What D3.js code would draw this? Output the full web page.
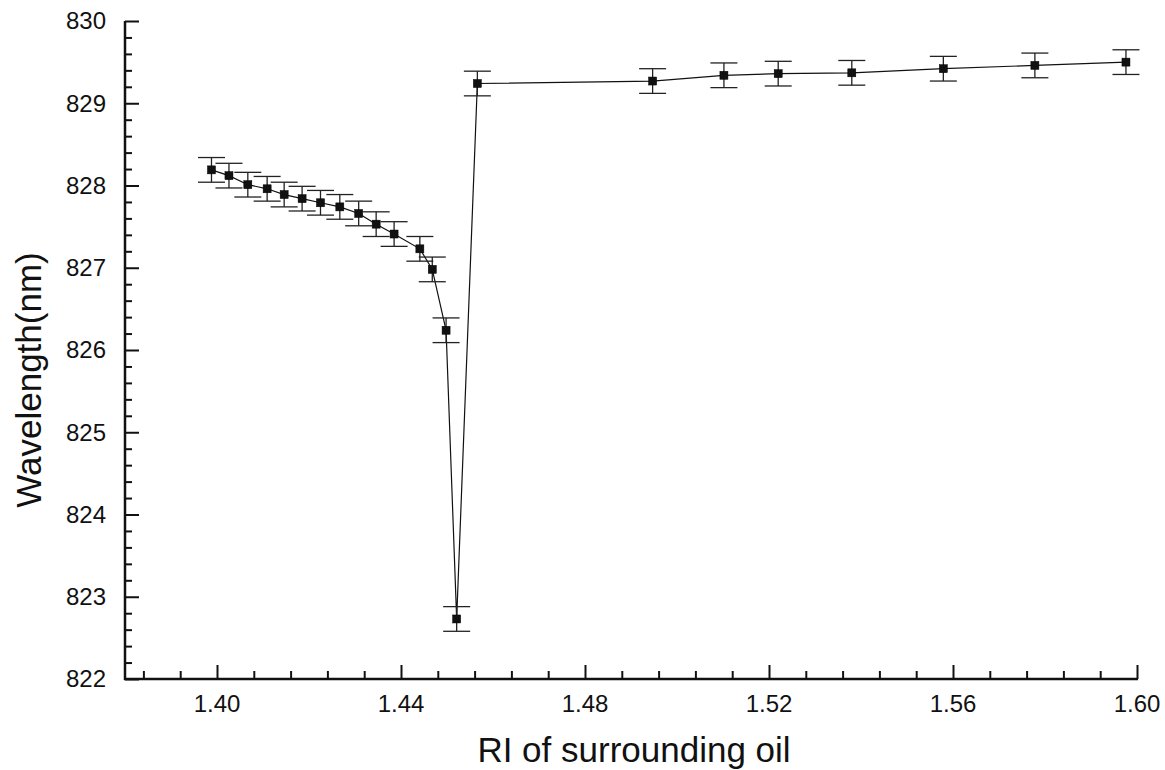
<!DOCTYPE html>
<html>
<head>
<meta charset="utf-8">
<script src="https://cdn.jsdelivr.net/npm/d3@7"></script>
<style>
  html, body { margin: 0; padding: 0; background: #fff; }
  svg { display: block; }
  text { font-family: "Liberation Sans", Arial, sans-serif; fill: #111; }
</style>
</head>
<body>
<svg id="chart" width="1165" height="770"></svg>
<script>
// Refractive index of the surrounding oil
const riValues = [
  1.3988, 1.4026, 1.4067, 1.4109, 1.4146, 1.4185, 1.4225, 1.4267,
  1.4308, 1.4346, 1.4385, 1.4441, 1.4468, 1.4498, 1.4521, 1.4566,
  1.4947, 1.5102, 1.5220, 1.5380, 1.5579, 1.5778, 1.5976
];
// Resonance wavelength (nm)
const wavelengths = [
  828.19, 828.12, 828.01, 827.96, 827.89, 827.84, 827.79, 827.74,
  827.66, 827.53, 827.41, 827.23, 826.98, 826.24, 822.73, 829.24,
  829.27, 829.34, 829.36, 829.37, 829.42, 829.46, 829.50
];
// Measurement uncertainty (nm)
const errors = [
  0.15, 0.15, 0.15, 0.15, 0.15, 0.15, 0.15, 0.15,
  0.15, 0.15, 0.15, 0.15, 0.15, 0.15, 0.15, 0.15,
  0.15, 0.15, 0.15, 0.15, 0.15, 0.15, 0.15
];
const xTickValues = [1.40, 1.44, 1.48, 1.52, 1.56, 1.60];
const yTickValues = [822, 823, 824, 825, 826, 827, 828, 829, 830];
const xTitle = "RI of surrounding oil";
const yTitle = "Wavelength(nm)";

const data = riValues.map((x, i) => ({ x, y: wavelengths[i], e: errors[i] }));

const svg = d3.select("#chart");
const x = d3.scaleLinear().domain([1.38, 1.60]).range([125, 1137]);
const y = d3.scaleLinear().domain([822, 830]).range([679, 21]);

// minor ticks
const xMinor = d3.range(0, 28).map(i => +(1.384 + i * 0.008).toFixed(3))
  .filter(v => v <= 1.6001 && !xTickValues.some(t => Math.abs(t - v) < 1e-6));
const yMinor = d3.range(0, 41).map(i => +(822 + i * 0.2).toFixed(1))
  .filter(v => !yTickValues.some(t => Math.abs(t - v) < 1e-6));

// x axis (ticks point into the plot)
const gx = svg.append("g").attr("transform", `translate(0,${y(822)})`);
gx.call(d3.axisTop(x).tickValues(xMinor).tickSize(8).tickFormat(""))
  .call(g => g.select(".domain").remove());
gx.append("g").call(d3.axisTop(x).tickValues(xTickValues).tickSize(14).tickFormat(""))
  .call(g => g.select(".domain").remove());
gx.selectAll("line").attr("stroke", "#111").attr("stroke-width", 2);
gx.append("g").selectAll("text").data(xTickValues).join("text")
  .attr("x", d => x(d)).attr("y", 33)
  .attr("text-anchor", "middle").attr("font-size", 24)
  .text(d3.format(".2f"));
gx.append("line").attr("x1", x(1.38) - 1).attr("x2", x(1.60) + 1)
  .attr("stroke", "#111").attr("stroke-width", 2.5);

// y axis (ticks point into the plot)
const gy = svg.append("g").attr("transform", `translate(${x(1.38)},0)`);
gy.call(d3.axisRight(y).tickValues(yMinor).tickSize(7).tickFormat(""))
  .call(g => g.select(".domain").remove());
gy.append("g").call(d3.axisRight(y).tickValues(yTickValues).tickSize(14).tickFormat(""))
  .call(g => g.select(".domain").remove());
gy.selectAll("line").attr("stroke", "#111").attr("stroke-width", 2);
gy.append("g").selectAll("text").data(yTickValues).join("text")
  .attr("x", -19).attr("y", d => y(d)).attr("dy", "0.35em")
  .attr("text-anchor", "end").attr("font-size", 24)
  .text(d => d);
gy.append("line").attr("y1", y(830)).attr("y2", y(822) + 1)
  .attr("stroke", "#111").attr("stroke-width", 2.5);

// axis titles
svg.append("text").attr("x", 634).attr("y", 762)
  .attr("text-anchor", "middle").attr("font-size", 35).text(xTitle);
svg.append("text").attr("transform", `translate(41,${380}) rotate(-90)`)
  .attr("text-anchor", "middle").attr("font-size", 35).text(yTitle);

// connecting line
svg.append("path").datum(data)
  .attr("fill", "none").attr("stroke", "#111").attr("stroke-width", 1.2)
  .attr("d", d3.line().x(d => x(d.x)).y(d => y(d.y)));

// error bars
const cap = 13.5;
const eb = svg.append("g").attr("stroke", "#222").attr("stroke-width", 1.3);
eb.selectAll(".stem").data(data).join("line")
  .attr("x1", d => x(d.x)).attr("x2", d => x(d.x))
  .attr("y1", d => y(d.y + d.e)).attr("y2", d => y(d.y - d.e));
eb.selectAll(".top").data(data).join("line")
  .attr("x1", d => x(d.x) - cap).attr("x2", d => x(d.x) + cap)
  .attr("y1", d => y(d.y + d.e)).attr("y2", d => y(d.y + d.e));
eb.selectAll(".bot").data(data).join("line")
  .attr("x1", d => x(d.x) - cap).attr("x2", d => x(d.x) + cap)
  .attr("y1", d => y(d.y - d.e)).attr("y2", d => y(d.y - d.e));

// square markers
const ms = 8;
svg.append("g").selectAll("rect").data(data).join("rect")
  .attr("x", d => x(d.x) - ms / 2).attr("y", d => y(d.y) - ms / 2)
  .attr("width", ms).attr("height", ms)
  .attr("fill", "#111").attr("stroke", "#000").attr("stroke-width", 0.5);
</script>
</body>
</html>
